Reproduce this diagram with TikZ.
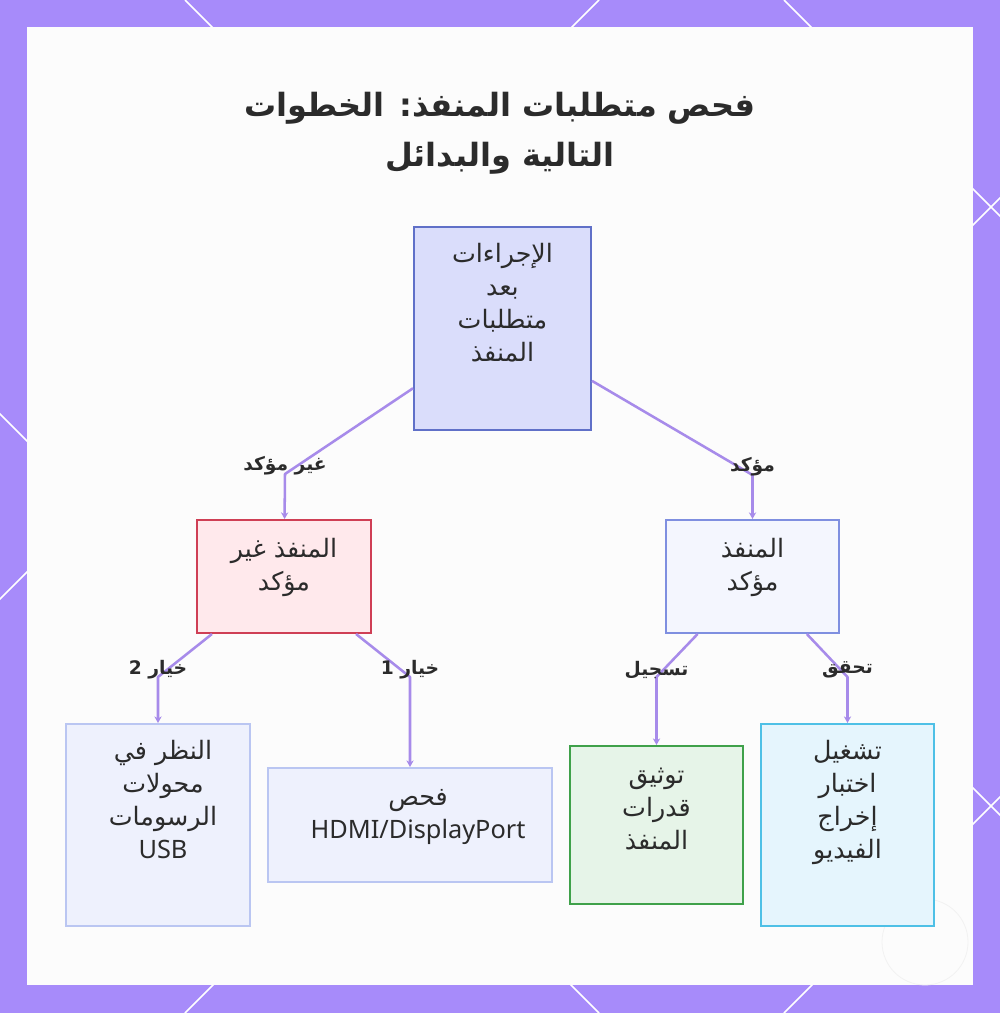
\documentclass[tikz,border=0pt]{standalone}
\usepackage{fontspec}
\setmainfont{Noto Sans}
\newfontfamily\arabicfont[Script=Arabic]{DejaVu Sans}
\TeXXeTstate=1
\usetikzlibrary{arrows.meta}
\definecolor{framecol}{HTML}{A78BFA}
\definecolor{panelcol}{HTML}{FCFCFC}
\definecolor{edgecol}{HTML}{A78BEA}
\definecolor{txtcol}{HTML}{2B2B2B}
\definecolor{topfill}{HTML}{DADDFB}
\definecolor{topdraw}{HTML}{6070C8}
\definecolor{redfill}{HTML}{FFE9EC}
\definecolor{reddraw}{HTML}{CF3F55}
\definecolor{bluefill}{HTML}{F4F6FE}
\definecolor{bluedraw}{HTML}{7F8FE0}
\definecolor{lightfill}{HTML}{EEF1FD}
\definecolor{lightdraw}{HTML}{BAC6F2}
\definecolor{greenfill}{HTML}{E6F4E8}
\definecolor{greendraw}{HTML}{3FA14A}
\definecolor{cyanfill}{HTML}{E5F5FD}
\definecolor{cyandraw}{HTML}{4EC0E6}
\newcommand{\myR}[1]{\strut\beginR #1\endR}
\tikzset{
  boxnode/.style={draw, line width=1.5pt, inner sep=0pt},
  txtnode/.style={anchor=north, inner sep=0pt, align=center, text=txtcol,
    font=\arabicfont\fontsize{19}{24.75}\selectfont},
  lblnode/.style={inner sep=0pt, text=txtcol,
    font=\arabicfont\bfseries\fontsize{14}{17}\selectfont},
  edgeline/.style={draw=edgecol, line width=1.9pt, line join=round,
    -{Stealth[length=5pt,width=5.5pt]}},
  latline/.style={white, line width=1.1pt}
}
\begin{document}
\begin{tikzpicture}[x=0.75pt,y=-0.75pt]
\useasboundingbox (0,0) rectangle (1000,1013);
% frame
\fill[framecol] (0,0) rectangle (1000,1013);
\begin{scope}
  \clip (0,0) rectangle (1000,1013);
  \foreach \c in {-414,185,784} \draw[latline] (\c,0) -- (\c+1013,1013);
  \foreach \c in {599,1198,1797} \draw[latline] (\c,0) -- (\c-1013,1013);
\end{scope}
\fill[panelcol] (27,27) rectangle (973,985);
\draw[black!5, line width=0.6pt] (925,942) circle (43);
% title
\node[inner sep=0pt, align=center, text=txtcol,
  font=\arabicfont\bfseries\fontsize{24}{37.5}\selectfont] (title) at (500,131.5)
  {\myR{فحص متطلبات المنفذ: الخطوات}\\ \myR{التالية والبدائل}};
% boxes
\node[boxnode, fill=topfill, draw=topdraw, minimum width=132.75pt, minimum height=152.25pt] (n1) at (502.5,328.5) {};
\node[boxnode, fill=redfill, draw=reddraw, minimum width=130.5pt, minimum height=84.75pt] (n2) at (284,576.5) {};
\node[boxnode, fill=bluefill, draw=bluedraw, minimum width=129.75pt, minimum height=84.75pt] (n3) at (752.5,576.5) {};
\node[boxnode, fill=lightfill, draw=lightdraw, minimum width=138pt, minimum height=151.5pt] (n4) at (158,825) {};
\node[boxnode, fill=lightfill, draw=lightdraw, minimum width=213pt, minimum height=85.5pt] (n5) at (410,825) {};
\node[boxnode, fill=greenfill, draw=greendraw, minimum width=129.75pt, minimum height=118.5pt] (n6) at (656.5,825) {};
\node[boxnode, fill=cyanfill, draw=cyandraw, minimum width=129.75pt, minimum height=151.5pt] (n7) at (847.5,825) {};
% texts
\node[txtnode] (t1) at ([yshift=-10pt]n1.north) {\myR{الإجراءات}\\ \myR{بعد}\\ \myR{متطلبات}\\ \myR{المنفذ}};
\node[txtnode] (t2) at ([yshift=-11.5pt]n2.north) {\myR{المنفذ غير}\\ \myR{مؤكد}};
\node[txtnode] (t3) at ([yshift=-11.25pt]n3.north) {\myR{المنفذ}\\ \myR{مؤكد}};
\node[txtnode] (t4) at ([xshift=3.75pt,yshift=-10pt]n4.north) {\myR{النظر في}\\ \myR{محولات}\\ \myR{الرسومات}\\ \strut{\fontspec{Noto Sans}USB}};
\node[txtnode] (t5) at ([xshift=6pt,yshift=-11pt]n5.north) {\myR{فحص}\\ \strut{\fontspec{Noto Sans}HDMI/DisplayPort}};
\node[txtnode] (t6) at ([yshift=-11pt]n6.north) {\myR{توثيق}\\ \myR{قدرات}\\ \myR{المنفذ}};
\node[txtnode] (t7) at ([yshift=-10pt]n7.north) {\myR{تشغيل}\\ \myR{اختبار}\\ \myR{إخراج}\\ \myR{الفيديو}};
% bends
\coordinate (b1) at (285,474);
\coordinate (b2) at (752.5,475);
\coordinate (b3) at (158,677);
\coordinate (b4) at (410,677);
\coordinate (b5) at (656.5,677);
\coordinate (b6) at (847.5,677);
% edges
\draw[edgeline] (n1) -- (b1) -- (n2);
\draw[edgeline] (n1) -- (b2) -- (n3);
\draw[edgeline] (n2) -- (b3) -- (n4);
\draw[edgeline] (n2) -- (b4) -- (n5);
\draw[edgeline] (n3) -- (b5) -- (n6);
\draw[edgeline] (n3) -- (b6) -- (n7);
% labels
\node[lblnode] (l1) at ([yshift=6.5pt]b1) {\beginR غير مؤكد\endR};
\node[lblnode] (l2) at ([yshift=6.5pt]b2) {\beginR مؤكد\endR};
\node[lblnode] (l3) at ([yshift=5.5pt]b3) {\beginR خيار 2\endR};
\node[lblnode] (l4) at ([yshift=5.5pt]b4) {\beginR خيار 1\endR};
\node[lblnode] (l5) at ([yshift=5.5pt]b5) {\beginR تسجيل\endR};
\node[lblnode] (l6) at ([yshift=5.5pt]b6) {\beginR تحقق\endR};
\end{tikzpicture}
\end{document}
